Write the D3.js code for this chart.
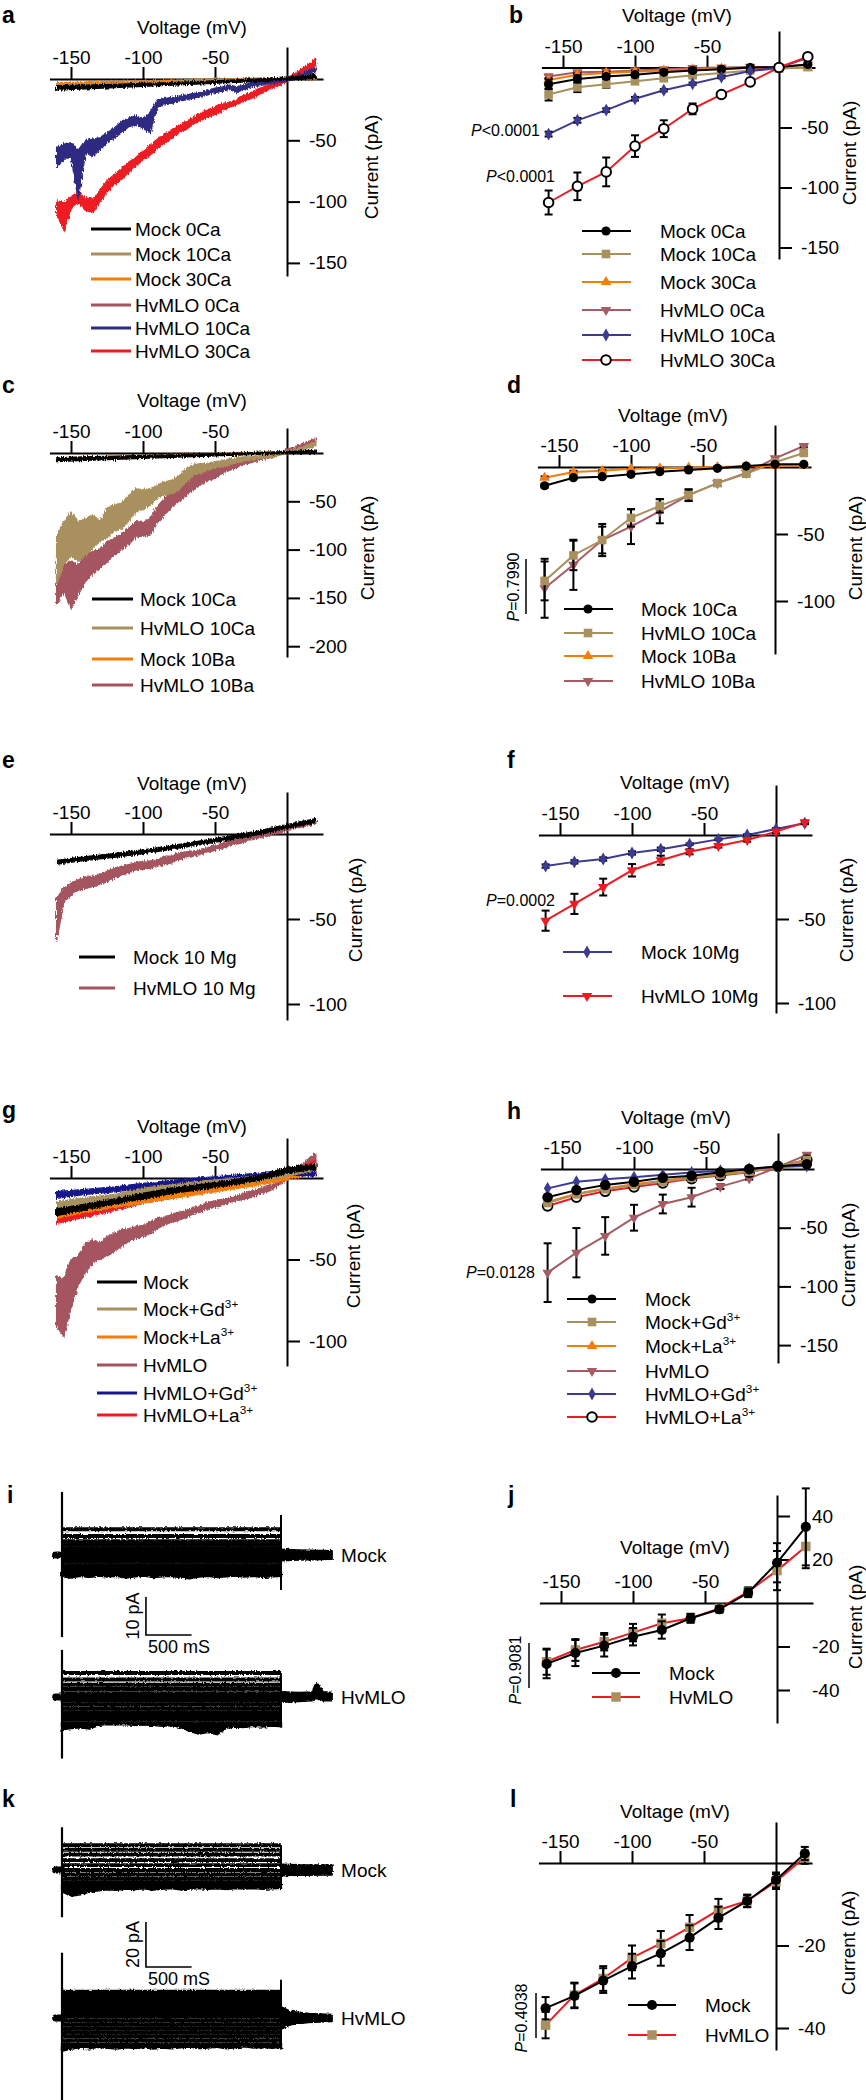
<!DOCTYPE html>
<html>
<head>
<meta charset="utf-8">
<script src="https://cdn.jsdelivr.net/npm/d3@7/dist/d3.min.js"></script>
<style>
html,body{margin:0;padding:0;background:#fff;}
svg{display:block;background:#fff;}
text{font-family:"Liberation Sans",Arial,Helvetica,sans-serif;}
</style>
</head>
<body>
<svg id="fig" width="866" height="2100">
  <defs>
    <filter id="fuzzTrace" x="-5%" y="-30%" width="110%" height="160%">
      <feTurbulence type="fractalNoise" baseFrequency="0.9 0.25" numOctaves="1" seed="7" result="n"/>
      <feDisplacementMap in="SourceGraphic" in2="n" scale="5" xChannelSelector="R" yChannelSelector="G"/>
    </filter>
    <filter id="fuzzSweep" x="-5%" y="-10%" width="110%" height="120%">
      <feTurbulence type="fractalNoise" baseFrequency="0.6 0.5" numOctaves="1" seed="3" result="n"/>
      <feDisplacementMap in="SourceGraphic" in2="n" scale="3.5" xChannelSelector="R" yChannelSelector="G"/>
    </filter>
  </defs>
</svg>
<script>
// ======================= DATA =======================
const xTickVals = [-150, -100, -50];
const ivVolts = [-160, -140, -120, -100, -80, -60, -40, -20, 0, 20];
const traceVolts = [-160,-155,-150,-145,-140,-135,-130,-125,-120,-115,-110,-105,-100,-95,-90,-85,-80,-75,-70,-65,-60,-55,-50,-45,-40,-35,-30,-25,-20,-15,-10,-5,0,5,10,15,20];

// ---- series names ----
const namesAB = ['Mock 0Ca', 'Mock 10Ca', 'Mock 30Ca', 'HvMLO 0Ca', 'HvMLO 10Ca', 'HvMLO 30Ca'];
const namesCD = ['Mock 10Ca', 'HvMLO 10Ca', 'Mock 10Ba', 'HvMLO 10Ba'];
const namesE = ['Mock 10 Mg', 'HvMLO 10 Mg'];
const namesF = ['Mock 10Mg', 'HvMLO 10Mg'];
const namesGH = ['Mock', 'Mock+Gd^3+', 'Mock+La^3+', 'HvMLO', 'HvMLO+Gd^3+', 'HvMLO+La^3+'];
const namesJL = ['Mock', 'HvMLO'];

// ---- panel a : ramp traces (pA), low / high edge of the noisy trace ----
const a_mock0_lo = [-9,-8,-7,-6,-5,-4,-3,-2,-1,0.5];
const a_mock0_hi = [-5.5,-5,-4.5,-3.5,-3,-2,-1,0,1.5,3.5];
const a_mock10_lo = [-8,-7,-6,-5,-4,-3,-2,-1,-0.5,0.5];
const a_mock10_hi = [-5,-4,-3.5,-3,-2,-1,-0.5,0.5,1.5,3];
const a_mock30_lo = [-6,-5,-4,-3.5,-3,-2,-1.5,-1,-0.5,0];
const a_mock30_hi = [-3,-2.5,-2,-1.5,-1,-0.5,0,0.5,1,2];
const a_hv0_lo = [-7,-6,-5,-4,-3,-2,-1.5,-1,0,1];
const a_hv0_hi = [-4,-3.5,-3,-2,-1.5,-1,0,0.5,1.5,4];
const a_hv10_lo = [-72,-66,-63,-98,-60,-63,-58,-52,-48,-44,-39,-37,-40,-44,-23,-21,-20,-18,-17,-15.5,-14.5,-13,-11,-10,-8.5,-11,-8.5,-6.5,-5.5,-4.5,-3.5,-2.5,-2,-0.5,1.5,3.5,6];
const a_hv10_hi = [-56,-53,-52,-58,-50,-49,-48,-44,-40,-35,-32,-30,-32,-27,-17,-16,-15,-14,-13,-12,-11,-9.5,-7.5,-6.5,-5,-6.5,-5,-3,-2.5,-1.5,-0.5,0.5,1,2.5,4.5,6.5,9.5];
const a_hv30_lo = [-109,-124,-106,-101,-107,-109,-100,-92,-86,-82,-76,-71,-66,-62,-57,-52,-48,-44,-41,-37,-34,-31,-29,-26,-23,-21,-18,-16,-13,-10,-7,-5,-2,1,4,7,11];
const a_hv30_hi = [-99,-101,-96,-92,-97,-98,-91,-83,-78,-73,-68,-64,-59,-54,-49,-45,-42,-38,-35,-31,-28,-25,-23,-20,-19,-17,-13,-11,-8,-6,-4,-2,1,4,8,12,17];

// ---- panel b : mean I-V (pA) and error ----
const b_mock0 = [-14,-9.5,-7.5,-6,-4,-2.5,-1.5,0,0.5,2.5];
const b_mock0_err = [4,3,2,1.5,1,1,0.5,0.5,0.5,0.5];
const b_mock10 = [-22.5,-16.5,-14,-11.5,-9,-6.5,-4.5,-2.5,-1,0.5];
const b_mock10_err = [5,4,3,2,1.5,1,1,0.5,0.5,0.5];
const b_mock30 = [-10.5,-6,-4.5,-3.5,-2.5,-1.5,-1,-0.5,-0.5,-0.5];
const b_mock30_err = [1.5,1,1,1,0.5,0.5,0.5,0.5,0.5,0.5];
const b_hv0 = [-7.5,-4,-3.5,-2.5,-1.5,-0.5,0,0.5,0.5,2.5];
const b_hv0_err = [1.5,1,1,1,0.5,0.5,0.5,0.5,0.5,0.5];
const b_hv10 = [-55.5,-44,-35.5,-26,-19,-13.5,-8,-3,0,8];
const b_hv10_err = [2,2,1.5,1.5,1,1,1,0.5,0.5,1];
const b_hv30 = [-112.5,-99,-87,-65.5,-51,-34.5,-22.5,-12,0,9];
const b_hv30_err = [10,11.5,12,9,7,4.5,2,1.5,1,1.5];

// ---- panel c : ramp traces ----
const c_mockCa_lo = [-9,-7.5,-6.5,-5.5,-4.5,-3.5,-2.5,-1.5,-0.5,0];
const c_mockCa_hi = [-5,-4,-3.5,-2.5,-2,-1,-0.5,0.5,1.5,3];
const c_mockBa_lo = [-8,-6.5,-5.5,-4.5,-3.5,-3,-2,-1,-0.5,0];
const c_mockBa_hi = [-5,-4,-3,-2.5,-1.5,-1,0,0.5,1,2];
const c_hvCa_lo = [-135,-116,-106,-112,-106,-99,-92,-88,-81,-78,-71,-61,-58,-54,-47,-44,-42,-38,-30,-23,-20,-18,-15,-14,-12,-10,-8,-7,-6,-5,-4,-2,-1,1,3,5,7];
const c_hvCa_hi = [-85,-71,-61,-71,-68,-64,-71,-57,-54,-52,-44,-37,-38,-37,-33,-30,-28,-24,-16,-12,-11,-11,-9,-8,-6,-5,-4,-4,-3,-2,-1,0,2,4,6,9,11];
const c_hvBa_lo = [-157,-143,-161,-147,-133,-125,-119,-113,-106,-100,-95,-87,-86,-85,-72,-64,-56,-50,-44,-38,-33,-29,-26,-21,-18,-15,-12,-10,-8,-6,-4,-2,1,3,5,8,11];
const c_hvBa_hi = [-105,-116,-112,-116,-105,-102,-99,-92,-88,-84,-78,-71,-72,-68,-55,-47,-40,-34,-26,-23,-19,-17,-16,-13,-11,-8,-7,-5,-4,-2,-1,1,4,6,9,12,15];

// ---- panel d ----
const d_mockCa = [-14,-8,-7.2,-5.5,-3.5,-2.2,-1,0.7,2,2];
const d_mockCa_err = [1.5,1,1,1,0.5,0.5,0.5,0.5,0.5,0.5];
const d_hvCa = [-85,-66,-54.5,-38,-29,-21,-12,-5,3.5,10.5];
const d_hvCa_err = [14.5,11,12,6.5,5,4.4,2,1,1,1];
const d_mockBa = [-8,-3.8,-2.8,-1.3,-1,-0.5,0,0.5,1,1];
const d_mockBa_err = [1,1,0.5,0.5,0.5,0.5,0.5,0.5,0.5,0.5];
const d_hvBa = [-90.5,-73,-54.5,-44.5,-33,-21,-12,-4.5,6.5,15.7];
const d_hvBa_err = [22,18.7,10,13,9,4,2,1,1,1];

// ---- panel e : ramp traces ----
const e_mock_lo = [-17.7,-15.5,-13.7,-11.6,-9,-6.2,-3.4,-0.4,3.3,6.8];
const e_mock_hi = [-15.5,-13.3,-11.5,-9.4,-6.8,-4,-1.2,1.8,5.5,9];
const e_hv_lo = [-63,-40,-36,-33,-32,-31,-30,-28,-26,-24,-23,-21,-21,-20,-19,-18,-17,-15,-14,-13,-12,-11,-9.5,-8.5,-7,-6,-5,-3.5,-2.5,-1.5,-0.5,0.5,2,3,4,5,6];
const e_hv_hi = [-38,-32,-29,-27,-25,-25,-24,-22,-20,-19,-18,-17,-16,-16,-15,-13,-13,-11,-10.5,-10,-9,-8,-6.5,-5.5,-4,-3.5,-2.5,-1.5,-0.5,0.5,1.5,2.5,4,5,6.5,7.5,8.5];

// ---- panel f ----
const f_mock = [-18.5,-16,-14.3,-10.7,-8.5,-5.5,-2.6,0,3.6,7];
const f_mock_err = [1,1,1,1,1,0.5,0.5,0.5,0.5,0.5];
const f_hv = [-51,-41,-31,-21,-15,-10,-6.5,-3,2,7.5];
const f_hv_err = [6,6,5,3.7,2.7,1.5,1,1,1,1];

// ---- panel g : ramp traces ----
const g_mock_lo = [-23,-19.5,-16,-13,-9.5,-7,-4.5,-1.5,3,5.5];
const g_mock_hi = [-19,-16,-13,-9.5,-6,-4,-1.5,1.5,6.5,8.5];
const g_mockGd_lo = [-19.6,-16,-13,-11.5,-8.5,-6,-4,-2,0.8,5];
const g_mockGd_hi = [-14.6,-12,-10,-6.3,-4.3,-2,-0.5,1.5,5,9];
const g_mockLa_lo = [-24.7,-21,-18,-15.5,-12.5,-10,-7,-4.5,-1.2,3];
const g_mockLa_hi = [-19.6,-17,-14,-11.5,-8.4,-6,-3.5,-1.5,0.8,6];
const g_hvGd_lo = [-12.5,-10,-8.5,-6.3,-4.5,-3,-1.5,0,2,1];
const g_hvGd_hi = [-8.4,-7,-5.5,-3.3,-1.5,0,1.5,3,5,4];
const g_hvLa_lo = [-27.8,-24,-20,-15.5,-12.5,-9.5,-6,-3.5,0.8,6];
const g_hvLa_hi = [-21.7,-19.5,-17,-12.5,-9.4,-6.5,-3,-1,2.9,11];
const g_hv_lo = [-91,-97,-80,-66,-58,-52,-50,-48,-45,-42,-39,-37,-36,-34,-31,-29,-27,-26,-24,-22,-21,-19,-18,-17,-15,-14,-13,-12,-10,-9,-7,-4,-1.5,1,5,8,11];
const g_hv_hi = [-60,-62,-50,-48,-40,-38,-40,-36,-34,-32,-31,-30,-29,-27,-25,-24,-22,-21,-20,-18,-17,-15,-14,-13,-12,-11,-9,-8,-7,-5,-4,-2,0.5,4,8,12,15];

// ---- panel h ----
const h_mock = [-24,-18,-13.6,-10.8,-7.4,-5.7,-2.8,0,2.3,4];
const h_mockGd = [-29,-21.6,-17.3,-13.6,-10.8,-7.4,-5,-2.3,2.3,7.7];
const h_mockLa = [-28,-21,-16.5,-13,-10,-6.5,-4,-2.3,1.7,6];
const h_hv = [-88.3,-71.3,-57,-41.5,-29.8,-24,-15,-8,1.7,12];
const h_hv_err = [25,21,16,11,8,8,2,1,1,1];
const h_hvGd = [-16.5,-10.8,-8.8,-7,-5,-3,-1.4,0,1.7,2.5];
const h_hvLa = [-31.5,-24,-19,-15.3,-11.9,-8.2,-5.6,-2.8,2.3,7.7];

// ---- panel j ----
const j_mock = [-28,-23,-19.6,-15.5,-12.4,-7,-2.9,4.7,18.5,35];
const j_mock_err = [6.6,6,5,4,4,2,1.5,2,9,17.7];
const j_hv = [-27,-21.6,-17.8,-13.6,-9.3,-7,-2.5,5.2,14.9,26];
const j_hv_err = [6,5,4,4,4,2,1.5,2,9,10];

// ---- panel l ----
const l_mock = [-35.2,-32.2,-28.5,-25,-21.9,-18.1,-13.3,-9.2,-4.1,2.3];
const l_mock_err = [2.7,3,3,3,3,3,2.7,1.5,1.8,1.6];
const l_hv = [-39.3,-32,-28,-23,-19.5,-15.6,-11.4,-9.2,-4.5,1.4];
const l_hv_err = [3.2,3,3,3,3,3,2.7,1.5,1.8,1.6];

// ---- panels i, k : current sweeps (ms, pA relative to holding) ----
const sweepTimes = [0,100,200,300,400,500,600,700,800,900,1000,1100,1200,1300,1400,1500,1600,1700,1800,1900,2000,2100,2200,2300,2400];
const stepEndMs = 2400;
const i_mock_levels = [6.8,5.0,3.6,2.7,1.8,0.9,0.0,-0.9,-1.8,-2.7,-3.5,-4.3,-5.0];
const i_mock_bottom = [-5.6,-5.9,-5.5,-5.8,-5.4,-5.7,-5.5,-5.9,-5.6,-5.4,-5.8,-5.6,-5.5,-5.9,-6.1,-5.7,-5.5,-5.8,-5.6,-5.4,-5.7,-5.5,-5.8,-5.6,-5.5];
const i_hv_levels = [6.3,4.6,3.2,2.1,1.0,0.0,-1.0,-2.0,-3.0,-4.0,-5.0,-6.0,-7.0];
const i_hv_bottom = [-8.5,-8.2,-8.0,-8.3,-7.4,-6.8,-6.6,-7.0,-7.4,-7.2,-7.4,-7.6,-7.4,-7.9,-9.0,-9.6,-9.2,-9.8,-8.1,-7.8,-7.9,-7.6,-7.8,-7.5,-7.7];
const k_mock_levels = [11.1,9.0,6.8,4.4,2.2,0.0,-2.0,-3.8,-5.4,-6.8];
const k_mock_bottom = [-9.5,-11.5,-10.8,-9.6,-9.0,-8.6,-8.8,-8.3,-8.5,-8.2,-8.7,-8.4,-8.1,-8.6,-8.3,-8.0,-8.4,-8.2,-8.5,-8.0,-8.3,-8.1,-8.4,-8.2,-8.0];
const k_hv_levels = [11.6,9.8,8.0,6.2,4.4,2.6,0.8,-1.0,-2.8,-4.6,-6.4,-8.2,-10.0,-11.8];
const k_hv_bottom = [-14.5,-13.6,-13.0,-13.4,-12.8,-13.2,-13.6,-13.0,-13.3,-12.9,-13.5,-13.1,-13.4,-13.0,-12.7,-13.3,-13.1,-12.8,-13.4,-13.0,-12.6,-13.1,-12.9,-13.2,-12.8];
const i_mock_spikes = [16.6,-21.6,10.5,-9.2];
const i_hv_spikes = [12.4,-16.2,6.3,-8.0];
const k_mock_spikes = [19,-21,11.1,-8.0];
const k_hv_spikes = [29,-37,17,-14];
const i_mock_tailT = [2400,2600,2960], i_mock_tailLo = [-1.5,-1.3,-1.1], i_mock_tailHi = [1.5,1.3,1.1];
const i_hv_tailT = [2400,2600,2740,2780,2820,2860,2960], i_hv_tailLo = [-1.4,-1.2,-1.0,-0.4,-0.6,-1.0,-1.0], i_hv_tailHi = [1.4,1.2,1.3,3.5,3.2,1.4,1.2];
const k_mock_tailT = [2400,2600,2960], k_mock_tailLo = [-2.6,-2.3,-2.2], k_mock_tailHi = [2.6,2.3,2.2];
const k_hv_tailT = [2400,2500,2700,2960], k_hv_tailLo = [-5,-3,-2,-1.6], k_hv_tailHi = [5,3,2,1.6];
const scaleBarMs = 500;
const i_scalePA = 10, k_scalePA = 20;

// ======================= DRAWING =======================
const COL = {black:'#000000', tan:'#a8915f', orange:'#f47c0c', rose:'#a5545e', navy:'#2f2c82',
             red:'#ec1c24', blue:'#17178c', pnavy:'#3d3b91', prose:'#a65c64'};
const FS = 19;
const PXMV = 1.44;
const svg = d3.select('#fig');

function txt(g, x, y, s, o = {}) {
  const size = o.size || FS;
  const t = g.append('text').attr('x', x).attr('y', y).attr('font-size', size).attr('fill', '#000');
  if (o.anchor) t.attr('text-anchor', o.anchor);
  if (o.dy) t.attr('dy', o.dy);
  if (o.weight) t.attr('font-weight', o.weight);
  if (o.rotate) t.attr('transform', `rotate(-90,${x},${y})`);
  const parts = s.split('^');
  t.append('tspan').text(parts[0]);
  if (parts[1]) t.append('tspan').attr('font-size', size * 0.62).attr('dy', -size * 0.4).text(parts[1]);
  return t;
}
function pText(g, x, y, rest, o = {}) {
  const t = g.append('text').attr('x', x).attr('y', y).attr('font-size', 16).attr('fill', '#000')
    .attr('text-anchor', o.anchor || 'end').attr('dy', '0.35em');
  if (o.rotate) t.attr('transform', `rotate(-90,${x},${y})`);
  t.append('tspan').attr('font-style', 'italic').text('P');
  t.append('tspan').text(rest);
}

function ivPanel(c) {
  const g = svg.append('g');
  const x = d3.scaleLinear().domain([-165, 25]).range([c.x0 - 165 * PXMV, c.x0 + 25 * PXMV]);
  const yl = d3.scaleLinear().domain([0, c.refVal]).range([c.y0, c.refPx]);
  const y = d3.scaleLinear().domain([yl.invert(c.top), yl.invert(c.bot)]).range([c.top, c.bot]);
  const xa = g.append('g').attr('transform', `translate(0,${y(0)})`)
    .call(d3.axisTop(x).tickValues(xTickVals).tickSize(12).tickSizeOuter(0).tickPadding(3).tickFormat(d => String(d)));
  const ya = g.append('g').attr('transform', `translate(${x(0)},0)`)
    .call(d3.axisRight(y).tickValues(c.yTicks).tickSize(13).tickSizeOuter(0).tickPadding(c.pad || 9).tickFormat(d => String(d)));
  [xa, ya].forEach(a => {
    a.attr('font-family', null).attr('font-size', null);
    a.select('.domain').attr('stroke', '#000').attr('stroke-width', 2);
    a.selectAll('.tick line').attr('stroke', '#000').attr('stroke-width', 2);
    a.selectAll('.tick text').attr('font-size', FS).attr('fill', '#000');
  });
  txt(g, c.volt[0], c.volt[1], 'Voltage (mV)', {anchor: 'middle', dy: '0.35em'});
  txt(g, c.cur[0], c.cur[1], 'Current (pA)', {anchor: 'middle', dy: '0.35em', rotate: true});
  txt(g, c.lab[0], c.lab[1], c.lab[2], {size: 23, weight: 'bold'});
  const plot = g.append('g');
  return {g, plot, x, y};
}

function band(P, volts, lo, hi, color) {
  const data = volts.map((v, i) => ({v, lo: lo[i], hi: hi[i]}));
  P.plot.append('path').datum(data)
    .attr('d', d3.area().x(d => P.x(d.v)).y0(d => P.y(d.lo)).y1(d => P.y(d.hi)))
    .attr('fill', color).attr('stroke', color).attr('stroke-width', 1.3).attr('stroke-linejoin', 'round')
    .attr('filter', 'url(#fuzzTrace)');
}

function marker(g, type, cx, cy, color, s = 1) {
  if (type === 'circle') g.append('circle').attr('cx', cx).attr('cy', cy).attr('r', 4.6 * s).attr('fill', color);
  else if (type === 'ocircle') g.append('circle').attr('cx', cx).attr('cy', cy).attr('r', 4.8 * s).attr('fill', '#fff').attr('stroke', '#000').attr('stroke-width', 2);
  else if (type === 'square') g.append('rect').attr('x', cx - 4.3 * s).attr('y', cy - 4.3 * s).attr('width', 8.6 * s).attr('height', 8.6 * s).attr('fill', color);
  else {
    const sym = type === 'diamond' ? d3.symbolDiamond : d3.symbolTriangle;
    g.append('path').attr('d', d3.symbol().type(sym).size(48 * s * s)())
      .attr('transform', `translate(${cx},${cy})` + (type === 'tridown' ? ' rotate(180)' : ''))
      .attr('fill', color);
  }
}

function series(P, vals, errs, lineColor, mType, mColor, s = 1) {
  const pts = ivVolts.map((v, i) => ({v, val: vals[i], e: errs ? errs[i] : 0}));
  P.plot.append('path').datum(pts)
    .attr('d', d3.line().x(d => P.x(d.v)).y(d => P.y(d.val)))
    .attr('fill', 'none').attr('stroke', lineColor).attr('stroke-width', 2);
  if (errs) pts.forEach(d => {
    if (d.e <= 0) return;
    const cx = P.x(d.v), y1 = P.y(d.val - d.e), y2 = P.y(d.val + d.e);
    P.plot.append('line').attr('x1', cx).attr('x2', cx).attr('y1', y1).attr('y2', y2).attr('stroke', '#000').attr('stroke-width', 2);
    [y1, y2].forEach(yy => P.plot.append('line').attr('x1', cx - 4).attr('x2', cx + 4).attr('y1', yy).attr('y2', yy).attr('stroke', '#000').attr('stroke-width', 2));
  });
  pts.forEach(d => marker(P.plot, mType, P.x(d.v), P.y(d.val), mColor, s));
}

function legend(P, names, lineColors, rows, lx1, lx2, tx, lw, markers, mColors, mx, s = 1) {
  names.forEach((n, i) => {
    P.g.append('line').attr('x1', lx1).attr('x2', lx2).attr('y1', rows[i]).attr('y2', rows[i])
      .attr('stroke', lineColors[i]).attr('stroke-width', lw);
    if (markers) marker(P.g, markers[i], mx, rows[i], mColors[i], s);
    txt(P.g, tx, rows[i], n, {dy: '0.35em'});
  });
}

// ---------- panel a ----------
const A = ivPanel({x0: 287, refVal: -50, y0: 79, refPx: 140.3, top: 47, bot: 276, yTicks: [-50, -100, -150], volt: [192, 27], cur: [371, 167], lab: [2, 23, 'a']});
band(A, traceVolts, a_hv30_lo, a_hv30_hi, COL.red);
band(A, traceVolts, a_hv10_lo, a_hv10_hi, COL.navy);
band(A, ivVolts, a_hv0_lo, a_hv0_hi, COL.rose);
band(A, ivVolts, a_mock30_lo, a_mock30_hi, COL.orange);
band(A, ivVolts, a_mock10_lo, a_mock10_hi, COL.tan);
band(A, ivVolts, a_mock0_lo, a_mock0_hi, COL.black);
legend(A, namesAB, [COL.black, COL.tan, COL.orange, COL.rose, COL.navy, COL.red], [229, 254, 279, 305, 328, 351], 91, 131, 135, 3);

// ---------- panel b ----------
const B = ivPanel({x0: 779, refVal: -50, y0: 67.5, refPx: 127.5, top: 31, bot: 259, yTicks: [-50, -100, -150], volt: [677, 15], cur: [849, 153], lab: [509, 23, 'b']});
series(B, b_hv0, b_hv0_err, COL.prose, 'tridown', COL.prose);
series(B, b_mock30, b_mock30_err, COL.orange, 'tri', COL.orange);
series(B, b_mock10, b_mock10_err, COL.tan, 'square', COL.tan);
series(B, b_mock0, b_mock0_err, COL.black, 'circle', COL.black);
series(B, b_hv10, b_hv10_err, COL.pnavy, 'diamond', COL.pnavy);
series(B, b_hv30, b_hv30_err, COL.red, 'ocircle', COL.black);
pText(B.g, 540, 130, '<0.0001');
pText(B.g, 555, 176, '<0.0001');
legend(B, namesAB, [COL.black, COL.tan, COL.orange, COL.prose, COL.pnavy, COL.red], [231, 254, 282, 310, 335, 360], 582, 631, 660, 2,
  ['circle', 'square', 'tri', 'tridown', 'diamond', 'ocircle'], [COL.black, COL.tan, COL.orange, COL.prose, COL.pnavy, COL.black], 606);

// ---------- panel c ----------
const Cp = ivPanel({x0: 287, refVal: -50, y0: 453, refPx: 501.3, top: 428, bot: 657, yTicks: [-50, -100, -150, -200], volt: [192, 400], cur: [367, 548], lab: [2, 393, 'c']});
band(Cp, traceVolts, c_hvBa_lo, c_hvBa_hi, COL.rose);
band(Cp, traceVolts, c_hvCa_lo, c_hvCa_hi, COL.tan);
band(Cp, ivVolts, c_mockBa_lo, c_mockBa_hi, COL.orange);
band(Cp, ivVolts, c_mockCa_lo, c_mockCa_hi, COL.black);
legend(Cp, namesCD, [COL.black, COL.tan, COL.orange, COL.rose], [599, 628, 659, 685], 92, 133, 140, 3);

// ---------- panel d ----------
const D = ivPanel({x0: 775, refVal: -50, y0: 467, refPx: 534, top: 425, bot: 654, yTicks: [-50, -100], volt: [673, 415], cur: [855, 548], lab: [507, 393, 'd']});
series(D, d_hvBa, d_hvBa_err, COL.prose, 'tridown', COL.prose);
series(D, d_hvCa, d_hvCa_err, COL.tan, 'square', COL.tan);
series(D, d_mockBa, d_mockBa_err, COL.orange, 'tri', COL.orange);
series(D, d_mockCa, d_mockCa_err, COL.black, 'circle', COL.black);
pText(D.g, 513, 587, '=0.7990', {rotate: true, anchor: 'middle'});
D.g.append('line').attr('x1', 526).attr('x2', 526).attr('y1', 559).attr('y2', 614).attr('stroke', '#000').attr('stroke-width', 1.5);
legend(D, namesCD, [COL.black, COL.tan, COL.orange, COL.prose], [609, 633, 656, 681], 564, 613, 641, 2,
  ['circle', 'square', 'tri', 'tridown'], [COL.black, COL.tan, COL.orange, COL.prose], 588);

// ---------- panel e ----------
const E = ivPanel({x0: 287, refVal: -50, y0: 834, refPx: 919, top: 792, bot: 1020, yTicks: [-50, -100], volt: [192, 783], cur: [355, 910], lab: [2, 768, 'e']});
band(E, traceVolts, e_hv_lo, e_hv_hi, COL.rose);
band(E, ivVolts, e_mock_lo, e_mock_hi, COL.black);
legend(E, namesE, [COL.black, COL.rose], [957, 988], 79, 115, 133, 3);

// ---------- panel f ----------
const F = ivPanel({x0: 776, refVal: -50, y0: 835, refPx: 919, top: 785, bot: 1013, yTicks: [-50, -100], volt: [675, 782], cur: [846, 910], lab: [507, 768, 'f']});
series(F, f_mock, f_mock_err, COL.pnavy, 'diamond', COL.pnavy);
series(F, f_hv, f_hv_err, COL.red, 'tridown', COL.red);
pText(F.g, 555, 900, '=0.0002');
legend(F, namesF, [COL.pnavy, COL.red], [952, 996], 563, 612, 641, 2, ['diamond', 'tridown'], [COL.pnavy, COL.red], 587);

// ---------- panel g ----------
const G = ivPanel({x0: 287, refVal: -50, y0: 1178, refPx: 1259.5, top: 1138, bot: 1366, yTicks: [-50, -100], volt: [192, 1126], cur: [353, 1256], lab: [2, 1118, 'g']});
band(G, traceVolts, g_hv_lo, g_hv_hi, COL.rose);
band(G, ivVolts, g_hvLa_lo, g_hvLa_hi, COL.red);
band(G, ivVolts, g_mockLa_lo, g_mockLa_hi, COL.orange);
band(G, ivVolts, g_hvGd_lo, g_hvGd_hi, COL.blue);
band(G, ivVolts, g_mockGd_lo, g_mockGd_hi, COL.tan);
band(G, ivVolts, g_mock_lo, g_mock_hi, COL.black);
legend(G, namesGH, [COL.black, COL.tan, COL.orange, COL.rose, COL.blue, COL.red], [1282, 1309, 1337, 1365, 1393, 1415], 97, 137, 143, 3);

// ---------- panel h ----------
const H = ivPanel({x0: 778, refVal: -50, y0: 1169, refPx: 1227.7, top: 1133, bot: 1363, yTicks: [-50, -100, -150], volt: [676, 1117], cur: [848, 1255], lab: [507, 1119, 'h']});
series(H, h_hv, h_hv_err, COL.prose, 'tridown', COL.prose);
series(H, h_hvLa, null, COL.red, 'ocircle', COL.black);
series(H, h_mockLa, null, COL.orange, 'tri', COL.orange);
series(H, h_mockGd, null, COL.tan, 'square', COL.tan);
series(H, h_hvGd, null, COL.pnavy, 'diamond', COL.pnavy);
series(H, h_mock, null, COL.black, 'circle', COL.black, 1.15);
pText(H.g, 535, 1272, '=0.0128');
legend(H, namesGH, [COL.black, COL.tan, COL.orange, COL.prose, COL.pnavy, COL.red], [1299, 1322, 1346, 1371, 1394, 1417], 567, 616, 645, 2,
  ['circle', 'square', 'tri', 'tridown', 'diamond', 'ocircle'], [COL.black, COL.tan, COL.orange, COL.prose, COL.pnavy, COL.black], 592);

// ---------- panel j ----------
const J = ivPanel({x0: 777, refVal: 20, y0: 1603, refPx: 1559.5, top: 1495, bot: 1723, yTicks: [40, 20, -20, -40], volt: [675, 1547], cur: [855, 1617], lab: [508, 1503, 'j'], pad: 22});
series(J, j_hv, j_hv_err, COL.red, 'square', COL.tan, 1.1);
series(J, j_mock, j_mock_err, COL.black, 'circle', COL.black, 1.1);
pText(J.g, 515, 1670, '=0.9081', {rotate: true, anchor: 'middle'});
J.g.append('line').attr('x1', 529).attr('x2', 529).attr('y1', 1643).attr('y2', 1688).attr('stroke', '#000').attr('stroke-width', 1.5);
legend(J, namesJL, [COL.black, COL.red], [1673, 1697], 592, 640, 669, 2, ['circle', 'square'], [COL.black, COL.tan], 616, 1.1);

// ---------- panel l ----------
const Lp = ivPanel({x0: 776, refVal: -20, y0: 1863, refPx: 1945.5, top: 1822, bot: 2050, yTicks: [-20, -40], volt: [675, 1811], cur: [848, 1943], lab: [510, 1807, 'l']});
series(Lp, l_hv, l_hv_err, COL.red, 'square', COL.tan, 1.1);
series(Lp, l_mock, l_mock_err, COL.black, 'circle', COL.black, 1.1);
pText(Lp.g, 521, 2018, '=0.4038', {rotate: true, anchor: 'middle'});
Lp.g.append('line').attr('x1', 536).attr('x2', 536).attr('y1', 1993).attr('y2', 2038).attr('stroke', '#000').attr('stroke-width', 1.5);
legend(Lp, namesJL, [COL.black, COL.red], [2005, 2035], 628, 676, 705, 2, ['circle', 'square'], [COL.black, COL.tan], 652, 1.1);

// ---------- panels i, k : sweeps ----------
const tX = d3.scaleLinear().domain([0, stepEndMs]).range([62, 281]);
function sweeps(base, ppa, levels, bottom, spikes, tailT, tailLo, tailHi, sw, label) {
  const g = svg.append('g');
  const body = g.append('g').attr('filter', 'url(#fuzzSweep)');
  const y = d3.scaleLinear().domain([0, 10]).range([base, base - 10 * ppa]);
  body.append('line').attr('x1', tX(-70)).attr('x2', tX(0)).attr('y1', y(0)).attr('y2', y(0))
    .attr('stroke', '#000').attr('stroke-width', 7).attr('stroke-linecap', 'round');
  levels.forEach(Lv => body.append('line').attr('x1', tX(0)).attr('x2', tX(stepEndMs)).attr('y1', y(Lv)).attr('y2', y(Lv))
    .attr('stroke', '#000').attr('stroke-width', sw));
  // lowest (noisiest) sweep: filled up to the sweep above it so the lower edge stays dense
  const lastLv = levels[levels.length - 1];
  body.append('path').datum(bottom)
    .attr('d', d3.area().x((d, i) => tX(sweepTimes[i])).y0(d => y(d)).y1(() => y(lastLv)))
    .attr('fill', '#000').attr('stroke', '#000').attr('stroke-width', sw * 0.6);
  const td = tailT.map((t, i) => ({t, lo: tailLo[i], hi: tailHi[i]}));
  body.append('path').datum(td).attr('d', d3.area().x(d => tX(d.t)).y0(d => y(d.lo)).y1(d => y(d.hi)))
    .attr('fill', '#000').attr('stroke', '#000').attr('stroke-width', 1.5).attr('stroke-linejoin', 'round');
  g.append('line').attr('x1', tX(0)).attr('x2', tX(0)).attr('y1', y(spikes[0])).attr('y2', y(spikes[1])).attr('stroke', '#000').attr('stroke-width', 2.2);
  g.append('line').attr('x1', tX(stepEndMs)).attr('x2', tX(stepEndMs)).attr('y1', y(spikes[2])).attr('y2', y(spikes[3])).attr('stroke', '#000').attr('stroke-width', 2);
  txt(g, tX(tailT[tailT.length - 1]) + 9, base, label, {dy: '0.35em'});
  return {g, y};
}
function scaleBar(anchorY, ppa, pa) {
  const g = svg.append('g');
  const x1 = tX(920), x2 = tX(920 + scaleBarMs);
  g.append('path').attr('d', `M${x1},${anchorY - pa * ppa}V${anchorY}H${x2}`).attr('fill', 'none').attr('stroke', '#000').attr('stroke-width', 1.6);
  txt(g, x1 - 13, anchorY - pa * ppa / 2, pa + ' pA', {size: 18, anchor: 'middle', dy: '0.35em', rotate: true});
  txt(g, x1 + 2, anchorY + 12, scaleBarMs + ' mS', {size: 18, dy: '0.35em'});
}
txt(svg, 7, 1503, 'i', {size: 23, weight: 'bold'});
sweeps(1555, 3.8, i_mock_levels, i_mock_bottom, i_mock_spikes, i_mock_tailT, i_mock_tailLo, i_mock_tailHi, 4.0, 'Mock');
scaleBar(1635, 3.8, i_scalePA);
sweeps(1697, 3.8, i_hv_levels, i_hv_bottom, i_hv_spikes, i_hv_tailT, i_hv_tailLo, i_hv_tailHi, 4.0, 'HvMLO');
txt(svg, 2, 1807, 'k', {size: 23, weight: 'bold'});
sweeps(1870, 2.25, k_mock_levels, k_mock_bottom, k_mock_spikes, k_mock_tailT, k_mock_tailLo, k_mock_tailHi, 3.8, 'Mock');
scaleBar(1967, 2.25, k_scalePA);
sweeps(2018, 2.25, k_hv_levels, k_hv_bottom, k_hv_spikes, k_hv_tailT, k_hv_tailLo, k_hv_tailHi, 4.2, 'HvMLO');
</script>
</body>
</html>
